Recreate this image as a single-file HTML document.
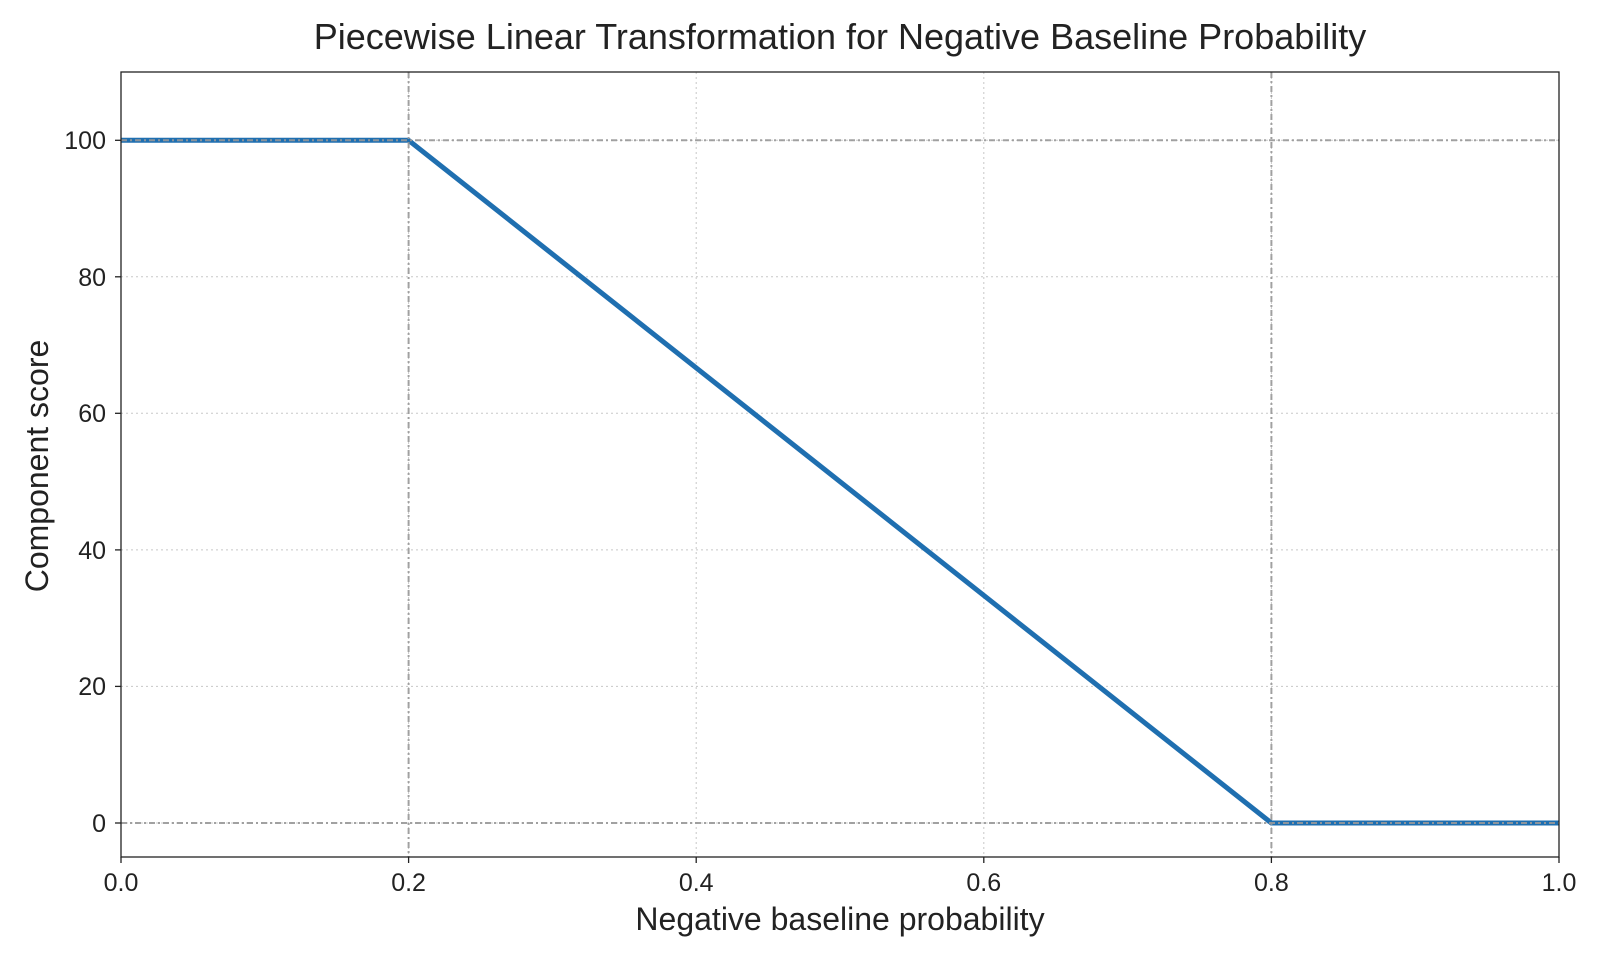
<!DOCTYPE html>
<html><head><style>body{margin:0;background:#fff}</style></head><body>
<svg width="1600" height="960" xmlns="http://www.w3.org/2000/svg" font-family="Liberation Sans, sans-serif">
<rect width="1600" height="960" fill="#fff"/>
<g stroke="#c8c8c8" stroke-width="1" stroke-dasharray="2,3">
<line x1="408.6" y1="72" x2="408.6" y2="857"/><line x1="696.2" y1="72" x2="696.2" y2="857"/><line x1="983.8" y1="72" x2="983.8" y2="857"/><line x1="1271.4" y1="72" x2="1271.4" y2="857"/>
<line x1="121" y1="823" x2="1559" y2="823"/><line x1="121" y1="686.4" x2="1559" y2="686.4"/><line x1="121" y1="549.9" x2="1559" y2="549.9"/><line x1="121" y1="413.3" x2="1559" y2="413.3"/><line x1="121" y1="276.8" x2="1559" y2="276.8"/><line x1="121" y1="140.3" x2="1559" y2="140.3"/>
</g>
<polyline points="121,140.3 408.6,140.3 1271.4,823 1559,823" fill="none" stroke="#1f6fb0" stroke-width="5" stroke-linejoin="round"/>
<g stroke="#999" stroke-width="2" stroke-dasharray="6,3,2,3" opacity="0.9">
<line x1="408.6" y1="72" x2="408.6" y2="857"/><line x1="1271.4" y1="72" x2="1271.4" y2="857"/>
<line x1="121" y1="140.3" x2="1559" y2="140.3"/><line x1="121" y1="823" x2="1559" y2="823"/>
</g>
<rect x="121" y="72" width="1438" height="785" fill="none" stroke="#222" stroke-width="1.3"/>
<g stroke="#222" stroke-width="1.3">
<line x1="121" y1="857" x2="121" y2="863"/><line x1="408.6" y1="857" x2="408.6" y2="863"/><line x1="696.2" y1="857" x2="696.2" y2="863"/><line x1="983.8" y1="857" x2="983.8" y2="863"/><line x1="1271.4" y1="857" x2="1271.4" y2="863"/><line x1="1559" y1="857" x2="1559" y2="863"/>
<line x1="115" y1="823" x2="121" y2="823"/><line x1="115" y1="686.4" x2="121" y2="686.4"/><line x1="115" y1="549.9" x2="121" y2="549.9"/><line x1="115" y1="413.3" x2="121" y2="413.3"/><line x1="115" y1="276.8" x2="121" y2="276.8"/><line x1="115" y1="140.3" x2="121" y2="140.3"/>
</g>
<g font-size="25" fill="#222" text-anchor="middle">
<text x="121" y="891">0.0</text><text x="408.6" y="891">0.2</text><text x="696.2" y="891">0.4</text><text x="983.8" y="891">0.6</text><text x="1271.4" y="891">0.8</text><text x="1559" y="891">1.0</text>
</g>
<g font-size="25" fill="#222" text-anchor="end">
<text x="106" y="832">0</text><text x="106" y="695">20</text><text x="106" y="559">40</text><text x="106" y="422">60</text><text x="106" y="286">80</text><text x="106" y="149">100</text>
</g>
<text x="840" y="930" font-size="32" fill="#222" text-anchor="middle">Negative baseline probability</text>
<text transform="translate(48,466) rotate(-90)" font-size="32" fill="#222" text-anchor="middle">Component score</text>
<text x="840" y="49" font-size="36" fill="#222" text-anchor="middle">Piecewise Linear Transformation for Negative Baseline Probability</text>
</svg>
</body></html>
